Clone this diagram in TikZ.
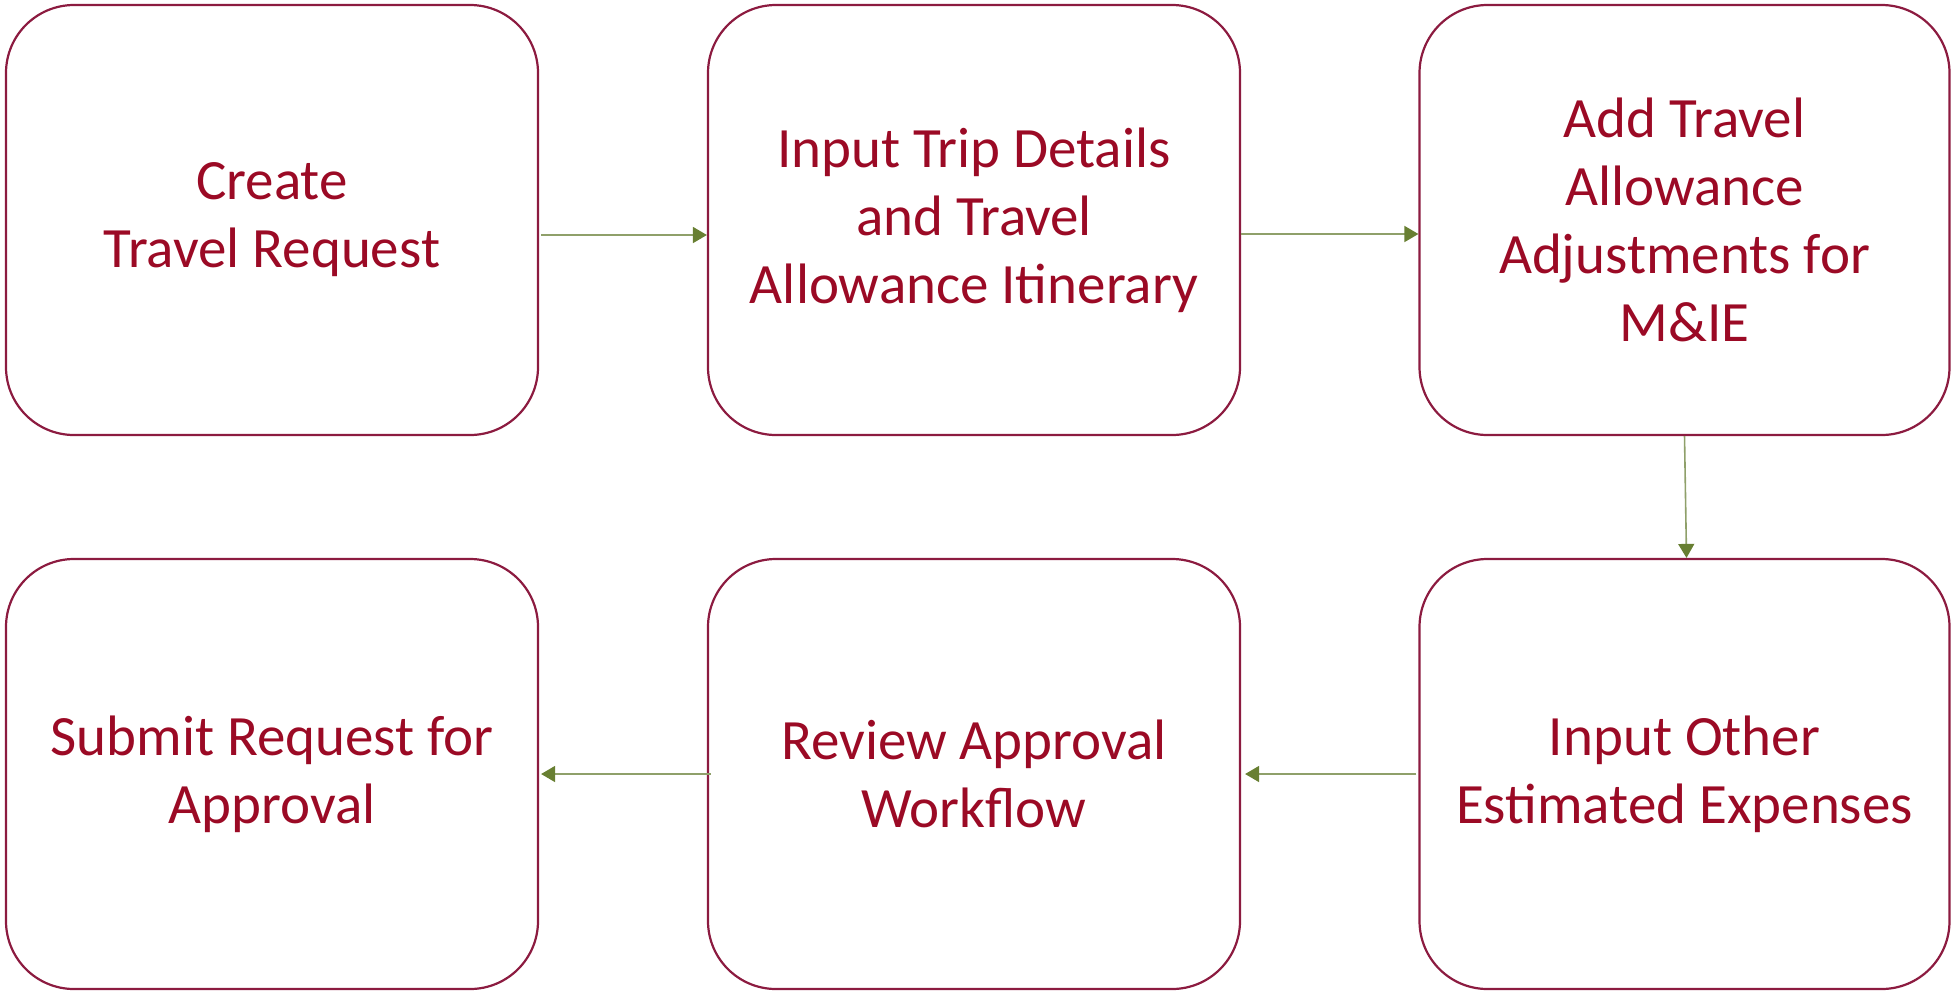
\documentclass[tikz,border=0pt]{standalone}
\usepackage{fontspec}
\setmainfont{Carlito}
\usetikzlibrary{arrows.meta}
\definecolor{boxline}{HTML}{8C1B40}
\definecolor{boxtext}{HTML}{9B0A25}
\definecolor{flowline}{HTML}{8FA06A}
\definecolor{flowtip}{HTML}{687F32}
\tikzset{
  stepbox/.style={draw=boxline, line width=1.1pt, rounded corners=34pt,
    minimum width=266pt, minimum height=215pt, align=center,
    text=boxtext, font=\fontsize{28.5pt}{34pt}\selectfont, inner sep=0pt},
  flow/.style={draw=flowline, line width=0.8pt,
    -{Triangle[length=7pt,width=8pt,color=flowtip]}}
}
\begin{document}
\begin{tikzpicture}[x=0.5pt,y=-0.5pt]
\useasboundingbox (0,0) rectangle (1952,992);
% top row
\node[stepbox] (b1) at (272,220) {Create\\Travel Request};
\node[stepbox] (b2) at (974,220) {Input Trip Details\\and Travel\\Allowance Itinerary};
\node[stepbox, minimum width=265pt] (b3) at (1684.5,220) {Add Travel\\Allowance\\Adjustments for\\M\&IE};
% bottom row
\node[stepbox] (b4) at (272,774) {Submit Request for\\Approval};
\node[stepbox] (b5) at (974,774) {Review Approval\\Workflow};
\node[stepbox, minimum width=265pt] (b6) at (1684.5,774) {Input Other\\Estimated Expenses};
% connectors
\draw[flow] ([yshift=-7.5pt,xshift=1pt]b1.east) -- ([yshift=-7.5pt]b2.west);
\draw[flow] ([yshift=-7pt]b2.east) -- ([yshift=-7pt]b3.west);
\draw[flow] (b3.south) -- ([xshift=1pt]b6.north);
\draw[flow] ([xshift=-1pt]b6.west) -- ([xshift=2pt]b5.east);
\draw[flow] ([xshift=2pt]b5.west) -- ([xshift=1pt]b4.east);
\end{tikzpicture}
\end{document}
